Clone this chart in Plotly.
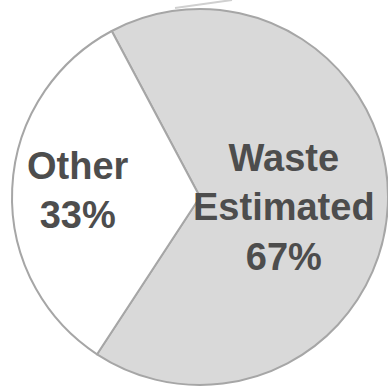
import plotly.graph_objects as go

# Share of the total by category
labels = ["Waste<br>Estimated", "Other"]
values = [67, 33]
colors = ["#d9d9d9", "#ffffff"]

# Label centre points (paper coords) for each slice's caption
label_x = [0.732, 0.200]
label_y = [0.465, 0.508]

W, H = 388, 387
cx, cy, r = 200, 190, 188  # pie centre / radius in pixels (y from bottom)

fig = go.Figure(
    go.Pie(
        labels=labels,
        values=values,
        sort=False,
        direction="clockwise",
        rotation=-28,
        marker=dict(colors=colors, line=dict(color="#a6a6a6", width=2)),
        textinfo="none",
        hoverinfo="label+percent",
        showlegend=False,
        domain=dict(x=[(cx - r) / W, (cx + r) / W], y=[(cy - r) / H, (cy + r) / H]),
    )
)

total = sum(values)
for lab, val, x, y in zip(labels, values, label_x, label_y):
    fig.add_annotation(
        x=x, y=y, xref="paper", yref="paper",
        xanchor="center", yanchor="middle",
        text=f"<b>{lab}<br>{round(100 * val / total)}%</b>",
        showarrow=False,
        font=dict(family="Liberation Sans, Arial, sans-serif", size=38, color="#4d4d4d"),
        align="center",
    )

# short leader stroke at the top edge
fig.add_shape(
    type="line", xref="paper", yref="paper",
    x0=175 / W, y0=1 - 8 / H, x1=232 / W, y1=1.0,
    line=dict(color="#d0d0d0", width=2),
)

fig.update_layout(
    width=W, height=H,
    margin=dict(l=0, r=0, t=0, b=0),
    paper_bgcolor="white", plot_bgcolor="white",
)

fig.write_html("out.html")
